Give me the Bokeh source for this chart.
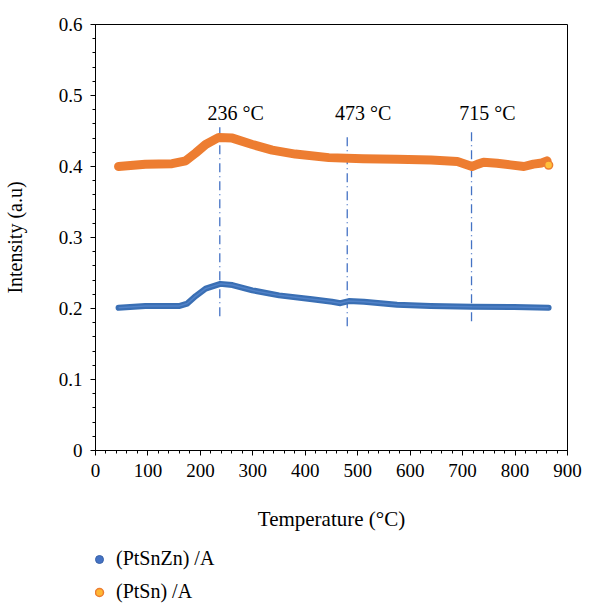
from bokeh.plotting import figure
from bokeh.layouts import column
from bokeh.models import (Range1d, FixedTicker, CustomJSTickFormatter, Legend, LegendItem,
                          ColumnDataSource)
from bokeh.core.properties import value
from bokeh.embed import file_html
from bokeh.resources import INLINE
import numpy as np

# ---- data ----
temp_ptsn = [44, 95, 146, 172, 191, 210, 235, 261, 299, 337, 381, 445, 510, 575, 640, 690, 718, 728,
             740, 766, 791, 817, 835, 851, 861]
int_ptsn = [0.400, 0.4033, 0.404, 0.408, 0.419, 0.431, 0.441, 0.440, 0.431, 0.423, 0.4175, 0.4125,
            0.411, 0.4103, 0.409, 0.407, 0.400, 0.403, 0.406, 0.4047, 0.4023, 0.400, 0.4033, 0.405, 0.408]
temp_ptsnzn = [44, 95, 159, 175, 191, 210, 238, 261, 299, 350, 413, 451, 467, 483, 512, 575, 639,
               718, 798, 864]
int_ptsnzn = [0.2011, 0.2035, 0.2035, 0.207, 0.2175, 0.228, 0.2347, 0.233, 0.2256, 0.2185, 0.213,
              0.2096, 0.2075, 0.2105, 0.2096, 0.2053, 0.2035, 0.2025, 0.202, 0.201]
ptsn_end = (864, 0.402)

marker_temps = [237, 480, 717]
marker_labels = ["236 °C", "473 °C", "715 °C"]
marker_top = [0.460, 0.446, 0.452]
marker_bottom = [0.189, 0.175, 0.182]
label_level = 0.476

x_ticks = [0, 100, 200, 300, 400, 500, 600, 700, 800, 900]
y_ticks = [0, 0.1, 0.2, 0.3, 0.4, 0.5, 0.6]
series_names = ["(PtSnZn) /A", "(PtSn) /A"]

FONT = "Liberation Serif"
BLUE = "#3a6fb4"
ORANGE = "#ed7d31"
DASH_BLUE = "#4472c4"

p = figure(width=591, height=548, output_backend="svg", toolbar_location=None,
           x_range=Range1d(0, 900), y_range=Range1d(0, 0.6))
p.min_border_left = 95
p.min_border_right = 24
p.min_border_top = 24
p.min_border_bottom = 98
p.xgrid.visible = False
p.ygrid.visible = False
p.outline_line_color = "black"
p.outline_line_width = 1
p.background_fill_color = "white"
p.border_fill_color = "white"

# axes
p.xaxis.ticker = FixedTicker(ticks=x_ticks, minor_ticks=list(np.arange(0, 901, 20)))
p.yaxis.ticker = FixedTicker(ticks=y_ticks, minor_ticks=list(np.round(np.arange(0, 0.601, 0.02), 3)))
p.yaxis.formatter = CustomJSTickFormatter(code="return tick == 0 ? '0' : tick.toFixed(1);")
for ax in (p.xaxis[0], p.yaxis[0]):
    ax.axis_line_color = "black"
    ax.major_tick_line_color = "black"
    ax.minor_tick_line_color = "black"
    ax.major_tick_in = 0
    ax.major_tick_out = 5
    ax.minor_tick_in = 0
    ax.minor_tick_out = 3
    ax.major_label_text_font = FONT
    ax.major_label_text_font_size = "19px"
    ax.major_label_text_color = "black"
    ax.axis_label_text_font = FONT
    ax.axis_label_text_font_style = "normal"
    ax.axis_label_text_color = "black"
    ax.major_label_standoff = 8
p.xaxis.axis_label = "Temperature (°C)"
p.yaxis.axis_label = "Intensity (a.u)"
p.xaxis.axis_label_text_font_size = "21px"
p.yaxis.axis_label_text_font_size = "20px"
p.xaxis.axis_label_standoff = 27
p.yaxis.axis_label_standoff = 30

# vertical dash-dot markers
seg = ColumnDataSource(dict(x=marker_temps, y0=marker_bottom, y1=marker_top))
p.segment(x0="x", x1="x", y0="y0", y1="y1", source=seg, line_color=DASH_BLUE,
          line_width=1.3, line_dash="9 4 1 4")

# curves
p.line(temp_ptsn, int_ptsn, line_color=ORANGE, line_width=9, line_cap="round", line_join="round")
p.line(temp_ptsnzn, int_ptsnzn, line_color=BLUE, line_width=6, line_cap="round", line_join="round")
p.line(temp_ptsnzn, int_ptsnzn, line_color="#5b8ad0", line_width=1.5, line_alpha=0.7)
p.scatter([ptsn_end[0]], [ptsn_end[1]], size=8, fill_color="#ffc13b", line_color=ORANGE, line_width=1.5)

# annotation labels
lab = ColumnDataSource(dict(x=marker_temps, y=[label_level] * 3, t=marker_labels))
p.text(x="x", y="y", text="t", source=lab, x_offset=16, text_align="center",
       text_baseline="middle", text_font=value(FONT), text_font_size="20px", text_color="black")

# legend in a separate strip below (swatch renderers hold one off-range point each)
q = figure(width=591, height=55, output_backend="svg", toolbar_location=None,
           x_range=Range1d(0, 1), y_range=Range1d(0, 1), min_border=0)
q.axis.visible = False
q.grid.visible = False
q.outline_line_color = None
q.border_fill_color = "white"
r_blue = q.scatter([-5], [-5], size=6, fill_color="#4472c4", line_color="#3a62a8", line_width=1)
r_orange = q.scatter([-5], [-5], size=6, fill_color="#ffb733", line_color=ORANGE, line_width=1.5)
legend = Legend(items=[LegendItem(label=series_names[0], renderers=[r_blue]),
                       LegendItem(label=series_names[1], renderers=[r_orange])],
                location=(-6, 0), orientation="vertical", padding=0, margin=0,
                spacing=10, glyph_width=20, glyph_height=20, label_height=20,
                label_standoff=7, border_line_color=None, background_fill_alpha=0,
                label_text_font=FONT, label_text_font_size="20px", label_text_color="black")
q.add_layout(legend, "center")

layout = column(p, q, spacing=0)
open("out.html", "w").write(file_html(layout, INLINE))
